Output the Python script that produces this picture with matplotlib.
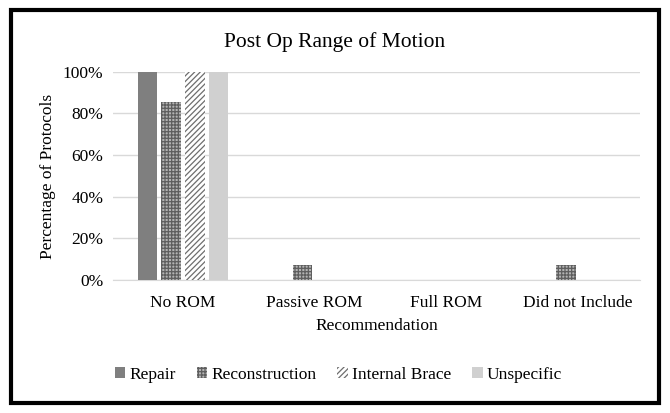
import numpy as np
import matplotlib.pyplot as plt
from matplotlib.patches import Rectangle
from matplotlib.ticker import PercentFormatter

plt.rcParams['font.family'] = ['Liberation Serif', 'DejaVu Serif']
plt.rcParams['hatch.linewidth'] = 0.9

categories = ['No ROM', 'Passive ROM', 'Full ROM', 'Did not Include']
repair = [1.00, 0.0, 0.0, 0.0]
reconstruction = [0.857, 0.071, 0.0, 0.071]
internal_brace = [1.00, 0.0, 0.0, 0.0]
unspecific = [1.00, 0.0, 0.0, 0.0]

series = [
    ('Repair', repair, dict(color='#7f7f7f')),
    ('Reconstruction', reconstruction, dict(facecolor='#b4b4b4', edgecolor='#5e5e5e', hatch='+++++')),
    ('Internal Brace', internal_brace, dict(facecolor='white', edgecolor='#6e6e6e', hatch='//////')),
    ('Unspecific', unspecific, dict(color='#d0d0d0')),
]

fig = plt.figure(figsize=(6.7, 4.13), dpi=100)
ax = fig.add_axes([0.169, 0.322, 0.786, 0.504])

x = np.arange(len(categories))
step = 0.182
width = 0.145
for i, (name, vals, style) in enumerate(series):
    ax.bar(x + (i - 1.5) * step, vals, width, label=name, linewidth=0, zorder=3, **style)

ax.set_ylim(0, 1)
ax.set_xlim(-0.53, 3.47)
ax.set_yticks(np.arange(0, 1.01, 0.2))
ax.yaxis.set_major_formatter(PercentFormatter(1.0, decimals=0))
ax.set_xticks(x)
ax.set_xticklabels(categories)
ax.grid(axis='y', color='#d9d9d9', linewidth=1, zorder=0)
for s in ['top', 'right', 'left']:
    ax.spines[s].set_visible(False)
ax.spines['bottom'].set_color('#d9d9d9')
ax.tick_params(axis='both', length=0, labelsize=12.5)
ax.tick_params(axis='x', pad=11)
ax.tick_params(axis='y', pad=7)

fig.text(0.5, 0.898, 'Post Op Range of Motion', fontsize=15.5, ha='center', va='center')
ax.set_xlabel('Recommendation', fontsize=12.5, labelpad=5)
ax.set_ylabel('Percentage of Protocols', fontsize=12.5, labelpad=5)

fig.legend(loc='center', bbox_to_anchor=(0.505, 0.092), ncol=4, frameon=False,
           fontsize=12.5, handlelength=0.6, handleheight=0.6, handletextpad=0.25,
           columnspacing=1.2)

fig.patches.append(Rectangle((0.016, 0.025), 0.968, 0.95, transform=fig.transFigure,
                             fill=False, edgecolor='black', linewidth=3))

fig.savefig('out.png', dpi=100)
